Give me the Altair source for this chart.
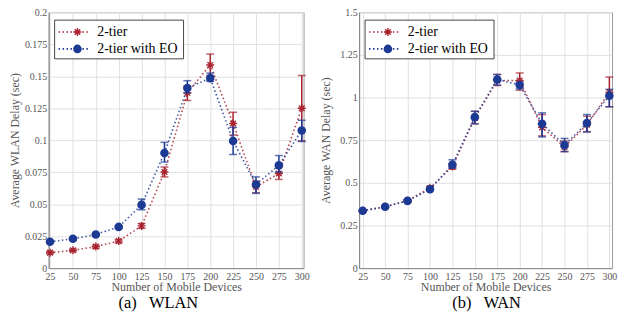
import altair as alt
import pandas as pd

devices = [25, 50, 75, 100, 125, 150, 175, 200, 225, 250, 275, 300]
series_names = ["2-tier", "2-tier with EO"]

# WLAN (a)
wlan_2tier = [0.0121, 0.0139, 0.0168, 0.0211, 0.0330, 0.0751, 0.1370, 0.1588, 0.1130, 0.0635, 0.0739, 0.1249]
wlan_2tier_lo = [0.0111, 0.0129, 0.0156, 0.0198, 0.0312, 0.0713, 0.1310, 0.1505, 0.1040, 0.0590, 0.0693, 0.0995]
wlan_2tier_hi = [0.0131, 0.0149, 0.0180, 0.0224, 0.0348, 0.0790, 0.1425, 0.1673, 0.1218, 0.0680, 0.0790, 0.1506]
wlan_eo = [0.0206, 0.0229, 0.0263, 0.0322, 0.0494, 0.0900, 0.1408, 0.1485, 0.0994, 0.0654, 0.0803, 0.1076]
wlan_eo_lo = [0.0198, 0.0221, 0.0254, 0.0312, 0.0456, 0.0829, 0.1369, 0.1460, 0.0888, 0.0584, 0.0750, 0.0990]
wlan_eo_hi = [0.0214, 0.0237, 0.0272, 0.0332, 0.0540, 0.0983, 0.1465, 0.1524, 0.1100, 0.0713, 0.0880, 0.1156]

# WAN (b)
wan_2tier = [0.336, 0.360, 0.395, 0.470, 0.595, 0.880, 1.100, 1.100, 0.825, 0.710, 0.840, 1.030]
wan_2tier_lo = [0.331, 0.355, 0.389, 0.462, 0.580, 0.846, 1.070, 1.043, 0.775, 0.683, 0.800, 0.946]
wan_2tier_hi = [0.341, 0.365, 0.401, 0.478, 0.612, 0.919, 1.135, 1.144, 0.900, 0.745, 0.890, 1.120]
wan_eo = [0.336, 0.360, 0.394, 0.462, 0.606, 0.885, 1.106, 1.073, 0.846, 0.721, 0.850, 1.010]
wan_eo_lo = [0.331, 0.355, 0.388, 0.455, 0.587, 0.846, 1.073, 1.050, 0.769, 0.683, 0.798, 0.946]
wan_eo_hi = [0.341, 0.365, 0.400, 0.469, 0.635, 0.919, 1.135, 1.090, 0.910, 0.760, 0.900, 1.048]

RED = "#a8232f"
BLUE = "#1c3a94"
FONT = "Liberation Serif"
STAR = "M0,-1L0,1M-1,0L1,0M-0.7,-0.7L0.7,0.7M-0.7,0.7L0.7,-0.7"


def frame(vals, lo, hi):
    return pd.DataFrame({"devices": devices, "value": vals, "lo": lo, "hi": hi})


def axis(vals, fmt, label_pad, title_pad):
    return alt.Axis(values=vals, format=fmt, labelFont=FONT, labelFontSize=10, labelColor="#555",
                    labelPadding=label_pad, labelOverlap=False, labelFlush=False,
                    titleFont=FONT, titleFontSize=12, titleColor="#555", titleFontWeight="normal",
                    titlePadding=title_pad, gridColor="#e0e0e0", tickSize=0, domainColor="#888")


def series_layers(df, color, X, Y, kind):
    base = alt.Chart(df)
    line = base.mark_line(color=color, strokeDash=[1.5, 2.5], strokeWidth=1.6, opacity=0.85).encode(
        x=X, y=Y("value:Q"))
    rule = base.mark_rule(color=color, strokeWidth=1.5).encode(x=X, y=Y("lo:Q"), y2="hi:Q")
    cap_lo = base.mark_tick(color=color, orient="horizontal", size=8, thickness=1.5).encode(x=X, y=Y("lo:Q"))
    cap_hi = base.mark_tick(color=color, orient="horizontal", size=8, thickness=1.5).encode(x=X, y=Y("hi:Q"))
    if kind == "star":
        pts = base.mark_point(shape=STAR, filled=False, color=color, strokeWidth=1.4, size=65, opacity=1).encode(
            x=X, y=Y("value:Q"))
    else:
        pts = base.mark_circle(color=color, size=75, opacity=1).encode(x=X, y=Y("value:Q"))
    return [line, rule, cap_lo, cap_hi, pts]


def legend_layers():
    one = pd.DataFrame({"label": [series_names[0]]})
    two = pd.DataFrame({"label": [series_names[1]]})
    box = alt.Chart(one).mark_rect(fill="white", stroke="#444", strokeWidth=1).encode(
        x=alt.value(6), x2=alt.value(136), y=alt.value(8), y2=alt.value(47))
    l1 = alt.Chart(one).mark_rule(color=RED, strokeDash=[1.5, 2.5], strokeWidth=1.6).encode(
        x=alt.value(10), x2=alt.value(40), y=alt.value(20))
    l2 = alt.Chart(two).mark_rule(color=BLUE, strokeDash=[1.5, 2.5], strokeWidth=1.6).encode(
        x=alt.value(10), x2=alt.value(40), y=alt.value(37))
    p1 = alt.Chart(one).mark_point(shape=STAR, filled=False, color=RED, strokeWidth=1.4, size=65, opacity=1).encode(
        x=alt.value(29), y=alt.value(20))
    p2 = alt.Chart(two).mark_circle(color=BLUE, size=75, opacity=1).encode(
        x=alt.value(29), y=alt.value(37))
    t1 = alt.Chart(one).mark_text(align="left", baseline="middle", font=FONT, fontSize=14, color="black").encode(
        x=alt.value(49), y=alt.value(20), text="label:N")
    t2 = alt.Chart(two).mark_text(align="left", baseline="middle", font=FONT, fontSize=14, color="black").encode(
        x=alt.value(49), y=alt.value(37), text="label:N")
    return [box, l1, l2, p1, p2, t1, t2]


def panel(df_a, df_b, ydom, ystep_vals, yfmt, ytitle, ytpad, xdom, width, caption, cap_dx):
    xs = alt.Scale(domain=xdom, nice=False, zero=False)
    ys = alt.Scale(domain=ydom, nice=False)
    X = alt.X("devices:Q", scale=xs, title="Number of Mobile Devices", axis=axis(devices, "d", 3, 1))
    yax = axis(ystep_vals, yfmt, 2, ytpad)

    def Y(field):
        return alt.Y(field, scale=ys, title=ytitle, axis=yax)

    layers = series_layers(df_a, RED, X, Y, "star") + series_layers(df_b, BLUE, X, Y, "circle") + legend_layers()
    return alt.layer(*layers).properties(
        width=width, height=258,
        title=alt.TitleParams(caption, orient="bottom", fontSize=16.5, font=FONT, fontWeight="normal",
                              color="black", anchor="middle", dx=cap_dx, offset=2),
    )


left = panel(frame(wlan_2tier, wlan_2tier_lo, wlan_2tier_hi), frame(wlan_eo, wlan_eo_lo, wlan_eo_hi),
             [0, 0.2], [0, 0.025, 0.05, 0.075, 0.1, 0.125, 0.15, 0.175, 0.2], ".3~f",
             "Average WLAN Delay (sec)", 3, [23.5, 302], 257, "(a)\u00a0\u00a0\u00a0WLAN", -18)
right = panel(frame(wan_2tier, wan_2tier_lo, wan_2tier_hi), frame(wan_eo, wan_eo_lo, wan_eo_hi),
              [0, 1.5], [0, 0.25, 0.5, 0.75, 1, 1.25, 1.5], ".2~f",
              "Average WAN Delay (sec)", 7, [21, 303], 255, "(b)\u00a0\u00a0\u00a0WAN", 1)

chart = alt.hconcat(left, right, spacing=9).configure_view(
    stroke="#999", strokeWidth=1
).properties(padding={"left": 0, "top": -3, "right": 0, "bottom": 0})

chart.save("out.html", embed_options={"renderer": "svg", "actions": False})
